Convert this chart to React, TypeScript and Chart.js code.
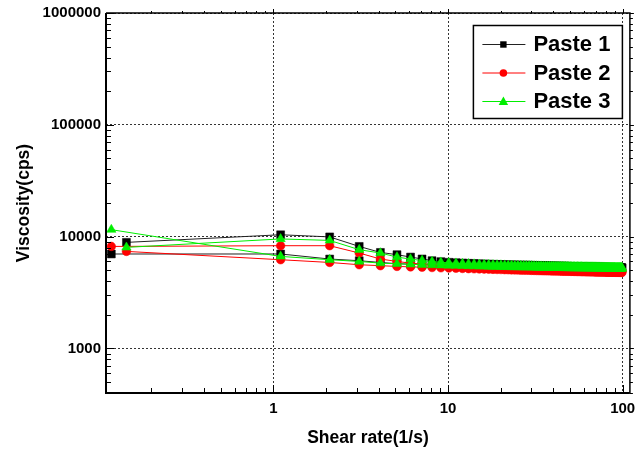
import React, { useEffect, useRef } from 'react';
import { Chart, registerables } from 'chart.js';

Chart.register(...registerables);

// Shear rates (1/s) of the measured steps
const SHEAR_RATE = [
  1.1, 2.1, 3.1, 4.1, 5.1, 6.1, 7.1, 8.1, 9.1, 10.1,
  11.1, 12.1, 13.1, 14.1, 15.1, 16.1, 17.1, 18.1, 19.1, 20.1,
  21.1, 22.1, 23.1, 24.1, 25.1, 26.1, 27.1, 28.1, 29.1, 30.1,
  31.1, 32.1, 33.1, 34.1, 35.1, 36.1, 37.1, 38.1, 39.1, 40.1,
  41.1, 42.1, 43.1, 44.1, 45.1, 46.1, 47.1, 48.1, 49.1, 50.1,
  51.1, 52.1, 53.1, 54.1, 55.1, 56.1, 57.1, 58.1, 59.1, 60.1,
  61.1, 62.1, 63.1, 64.1, 65.1, 66.1, 67.1, 68.1, 69.1, 70.1,
  71.1, 72.1, 73.1, 74.1, 75.1, 76.1, 77.1, 78.1, 79.1, 80.1,
  81.1, 82.1, 83.1, 84.1, 85.1, 86.1, 87.1, 88.1, 89.1, 90.1,
  91.1, 92.1, 93.1, 94.1, 95.1, 96.1, 97.1, 98.1, 99.1,
];

// Paste 1 — low-shear end points [start, end] and the two branches
const P1_ENDS_X = [0.144, 0.118];
const P1_ENDS_Y = [8890, 7000];
const P1_UP = [
  10400, 9950, 8180, 7230, 6900, 6570, 6320, 6100, 5980, 5900,
  5850, 5810, 5780, 5750, 5720, 5700, 5680, 5660, 5650, 5640,
  5625, 5615, 5600, 5595, 5580, 5570, 5565, 5555, 5550, 5540,
  5535, 5525, 5520, 5510, 5505, 5500, 5490, 5485, 5480, 5475,
  5470, 5462, 5458, 5450, 5446, 5440, 5436, 5430, 5426, 5420,
  5418, 5412, 5408, 5404, 5400, 5396, 5392, 5388, 5384, 5380,
  5377, 5374, 5370, 5367, 5364, 5360, 5358, 5355, 5352, 5349,
  5346, 5343, 5340, 5338, 5335, 5332, 5330, 5327, 5325, 5322,
  5320, 5318, 5315, 5313, 5310, 5308, 5306, 5304, 5302, 5300,
  5298, 5296, 5294, 5292, 5290, 5288, 5286, 5284, 5282,
];
const P1_DOWN = [
  7000, 6310, 6095, 5880, 5730, 5680, 5640, 5610, 5590, 5570,
  5555, 5540, 5530, 5520, 5510, 5500, 5492, 5485, 5478, 5470,
  5464, 5458, 5452, 5446, 5440, 5435, 5430, 5425, 5420, 5415,
  5410, 5406, 5402, 5398, 5394, 5390, 5386, 5382, 5378, 5375,
  5372, 5368, 5365, 5362, 5358, 5355, 5352, 5349, 5346, 5343,
  5340, 5337, 5334, 5331, 5328, 5326, 5323, 5320, 5318, 5315,
  5313, 5310, 5308, 5305, 5303, 5300, 5298, 5296, 5294, 5291,
  5289, 5287, 5285, 5283, 5281, 5279, 5277, 5275, 5273, 5271,
  5269, 5267, 5265, 5263, 5262, 5260, 5258, 5256, 5255, 5253,
  5251, 5250, 5248, 5246, 5245, 5243, 5242, 5240, 5239,
];

// Paste 2
const P2_ENDS_X = [0.118, 0.144];
const P2_ENDS_Y = [8180, 7380];
const P2_UP = [
  8300, 8300, 7140, 6310, 6000, 5800, 5680, 5590, 5520, 5460,
  5420, 5385, 5355, 5330, 5305, 5285, 5265, 5248, 5232, 5218,
  5205, 5193, 5182, 5172, 5162, 5153, 5144, 5136, 5128, 5121,
  5114, 5107, 5101, 5095, 5089, 5083, 5078, 5073, 5068, 5063,
  5058, 5054, 5049, 5045, 5041, 5037, 5033, 5029, 5026, 5022,
  5019, 5015, 5012, 5009, 5006, 5003, 5000, 4997, 4994, 4991,
  4989, 4986, 4983, 4981, 4978, 4976, 4974, 4971, 4969, 4967,
  4965, 4963, 4960, 4958, 4956, 4954, 4952, 4950, 4948, 4947,
  4945, 4943, 4941, 4939, 4938, 4936, 4934, 4933, 4931, 4929,
  4928, 4926, 4925, 4923, 4922, 4920, 4919, 4917, 4916,
];
const P2_DOWN = [
  6220, 5880, 5610, 5500, 5420, 5370, 5330, 5295, 5265, 5240,
  5218, 5197, 5178, 5161, 5145, 5130, 5116, 5103, 5091, 5080,
  5069, 5059, 5050, 5041, 5032, 5024, 5016, 5009, 5002, 4995,
  4989, 4982, 4976, 4971, 4965, 4960, 4955, 4950, 4945, 4940,
  4936, 4931, 4927, 4923, 4919, 4915, 4911, 4907, 4904, 4900,
  4897, 4893, 4890, 4887, 4884, 4881, 4878, 4875, 4872, 4869,
  4866, 4864, 4861, 4858, 4856, 4853, 4851, 4849, 4846, 4844,
  4842, 4840, 4837, 4835, 4833, 4831, 4829, 4827, 4825, 4823,
  4821, 4819, 4818, 4816, 4814, 4812, 4811, 4809, 4807, 4806,
  4804, 4802, 4801, 4799, 4798, 4796, 4795, 4793, 4792,
];

// Paste 3
const P3_ENDS_X = [0.144, 0.118];
const P3_ENDS_Y = [8020, 11550];
const P3_UP = [
  9540, 9260, 7650, 7140, 6570, 6300, 6120, 5990, 5900, 5830,
  5780, 5740, 5705, 5675, 5650, 5628, 5608, 5590, 5574, 5560,
  5547, 5535, 5524, 5514, 5504, 5495, 5487, 5479, 5472, 5465,
  5458, 5452, 5446, 5440, 5435, 5430, 5425, 5420, 5415, 5411,
  5407, 5403, 5399, 5395, 5391, 5388, 5384, 5381, 5378, 5375,
  5372, 5369, 5366, 5363, 5361, 5358, 5356, 5353, 5351, 5348,
  5346, 5344, 5342, 5340, 5338, 5336, 5334, 5332, 5330, 5328,
  5326, 5324, 5323, 5321, 5319, 5318, 5316, 5315, 5313, 5312,
  5310, 5309, 5307, 5306, 5305, 5303, 5302, 5301, 5299, 5298,
  5297, 5296, 5294, 5293, 5292, 5291, 5290, 5289, 5288,
];
const P3_DOWN = [
  6660, 6220, 6000, 5800, 5720, 5660, 5615, 5580, 5550, 5525,
  5503, 5484, 5467, 5452, 5438, 5425, 5413, 5402, 5392, 5383,
  5374, 5366, 5358, 5351, 5344, 5338, 5332, 5326, 5321, 5316,
  5311, 5306, 5302, 5298, 5294, 5290, 5286, 5283, 5279, 5276,
  5273, 5270, 5267, 5264, 5261, 5259, 5256, 5254, 5251, 5249,
  5247, 5245, 5243, 5241, 5239, 5237, 5235, 5233, 5231, 5229,
  5228, 5226, 5224, 5223, 5221, 5220, 5218, 5217, 5215, 5214,
  5213, 5211, 5210, 5209, 5208, 5206, 5205, 5204, 5203, 5202,
  5201, 5200, 5199, 5198, 5197, 5196, 5195, 5194, 5193, 5192,
  5191, 5190, 5189, 5188, 5187, 5186, 5186, 5185, 5184,
];

const SERIES_NAMES = ['Paste 1', 'Paste 2', 'Paste 3'];
const X_TICKS = [1, 10, 100];
const Y_TICKS = [1000, 10000, 100000, 1000000];

const FONT = '"Liberation Sans", Arial, Helvetica, sans-serif';

function loop(endsX: number[], endsY: number[], up: number[], down: number[]) {
  const pts: { x: number; y: number }[] = [];
  pts.push({ x: endsX[0], y: endsY[0] });
  SHEAR_RATE.forEach((x, i) => pts.push({ x, y: up[i] }));
  for (let i = SHEAR_RATE.length - 1; i >= 0; i--) pts.push({ x: SHEAR_RATE[i], y: down[i] });
  pts.push({ x: endsX[1], y: endsY[1] });
  return pts;
}

function logTicks(min: number, max: number) {
  const out: { v: number; major: boolean }[] = [];
  const lo = Math.floor(Math.log10(min));
  const hi = Math.ceil(Math.log10(max));
  for (let e = lo; e <= hi; e++) {
    for (let m = 1; m <= 9; m++) {
      const v = m * Math.pow(10, e);
      if (v >= min * 0.9999 && v <= max * 1.0001) out.push({ v, major: m === 1 });
    }
  }
  return out;
}

function drawMarker(ctx: CanvasRenderingContext2D, style: string, x: number, y: number, r: number) {
  ctx.beginPath();
  if (style === 'rect') {
    ctx.rect(x - r, y - r, 2 * r, 2 * r);
  } else if (style === 'circle') {
    ctx.arc(x, y, r, 0, Math.PI * 2);
  } else {
    ctx.moveTo(x, y - r * 1.1);
    ctx.lineTo(x + r * 1.05, y + r * 0.75);
    ctx.lineTo(x - r * 1.05, y + r * 0.75);
    ctx.closePath();
  }
  ctx.fill();
}

const framePlugin = {
  id: 'frameTicks',
  afterDraw(chart: any) {
    const { ctx, chartArea: a, scales } = chart;
    const xs = scales.x;
    const ys = scales.y;
    ctx.save();
    ctx.strokeStyle = '#000';
    ctx.lineWidth = 1;
    ctx.beginPath();
    for (const t of logTicks(xs.min, xs.max)) {
      const px = Math.round(xs.getPixelForValue(t.v)) + 0.5;
      ctx.moveTo(px, a.bottom);
      ctx.lineTo(px, a.bottom - (t.major ? 8 : 5));
      ctx.moveTo(px, a.top);
      ctx.lineTo(px, a.top - (t.major ? 4 : 2));
    }
    for (const t of logTicks(ys.min, ys.max)) {
      const py = Math.round(ys.getPixelForValue(t.v)) + 0.5;
      ctx.moveTo(a.left, py);
      ctx.lineTo(a.left + (t.major ? 8 : 5), py);
      ctx.moveTo(a.right, py);
      ctx.lineTo(a.right + (t.major ? 4 : 3), py);
    }
    ctx.stroke();
    // frame
    ctx.lineWidth = 1.5;
    ctx.beginPath();
    ctx.moveTo(a.left, a.top);
    ctx.lineTo(a.right, a.top);
    ctx.lineTo(a.right, a.bottom);
    ctx.stroke();
    ctx.lineWidth = 2;
    ctx.beginPath();
    ctx.moveTo(a.left, a.top);
    ctx.lineTo(a.left, a.bottom);
    ctx.lineTo(a.right, a.bottom);
    ctx.stroke();
    ctx.restore();
  },
};

const legendPlugin = {
  id: 'boxLegend',
  afterDraw(chart: any) {
    const { ctx, chartArea: a } = chart;
    const right = a.right - 7.5;
    const top = a.top + 12.5;
    const w = 149;
    const h = 93;
    const left = right - w;
    ctx.save();
    ctx.fillStyle = '#fff';
    ctx.fillRect(left, top, w, h);
    ctx.strokeStyle = '#000';
    ctx.lineWidth = 1.5;
    ctx.strokeRect(left, top, w, h);
    chart.data.datasets.forEach((ds: any, i: number) => {
      const y = top + 18.5 + i * 28.5;
      ctx.strokeStyle = ds.borderColor;
      ctx.lineWidth = 1;
      ctx.beginPath();
      ctx.moveTo(left + 9, y + 0.5);
      ctx.lineTo(left + 52, y + 0.5);
      ctx.stroke();
      ctx.fillStyle = ds.pointBackgroundColor;
      const r = ds.pointStyle === 'rect' ? 3.2 : ds.pointStyle === 'circle' ? 3.8 : 4.5;
      drawMarker(ctx, ds.pointStyle, left + 30, y + 0.5, r);
      ctx.fillStyle = '#000';
      ctx.font = `bold 22px ${FONT}`;
      ctx.textBaseline = 'middle';
      ctx.textAlign = 'left';
      ctx.fillText(ds.label, left + 60, y + 1);
    });
    ctx.restore();
  },
};

export default function App() {
  const canvasRef = useRef<HTMLCanvasElement | null>(null);

  useEffect(() => {
    const canvas = canvasRef.current;
    if (!canvas) return;
    const colors = ['#000000', '#ff0000', '#00ee00'];
    const styles = ['rect', 'circle', 'triangle'];
    const radii = [5.6, 4.3, 5.4];
    const loops = [
      loop(P1_ENDS_X, P1_ENDS_Y, P1_UP, P1_DOWN),
      loop(P2_ENDS_X, P2_ENDS_Y, P2_UP, P2_DOWN),
      loop(P3_ENDS_X, P3_ENDS_Y, P3_UP, P3_DOWN),
    ];
    const lineColors = ['#222222', '#ff0000', '#00ee00'];
    const datasets = SERIES_NAMES.map((name, i) => ({
      label: name,
      data: loops[i],
      borderColor: lineColors[i],
      borderWidth: 1,
      pointStyle: styles[i],
      pointRadius: radii[i],
      pointBackgroundColor: colors[i],
      pointBorderColor: colors[i],
      pointBorderWidth: 0.5,
      tension: 0,
      order: 3 - i,
    }));

    const chart = new Chart(canvas, {
      type: 'line',
      data: { datasets },
      options: {
        animation: false,
        responsive: false,
        devicePixelRatio: 1,
        layout: { padding: { top: 13, right: 6, left: 0, bottom: 0 } },
        plugins: {
          legend: { display: false },
          tooltip: { enabled: false },
        },
        scales: {
          x: {
            type: 'logarithmic',
            min: 0.11,
            max: 110,
            afterFit: (s: any) => { s.height = 59; s.paddingLeft = 0; s.paddingRight = 0; },
            afterBuildTicks: (s: any) => { s.ticks = X_TICKS.map((v) => ({ value: v })); },
            ticks: {
              autoSkip: false,
              maxRotation: 0,
              padding: 7,
              color: '#000',
              font: { family: FONT, size: 15, weight: 'bold' },
              callback: (v: any) => String(v),
            },
            grid: { color: '#333', lineWidth: 1, drawTicks: false },
            border: { display: false, dash: [2, 2] },
            title: {
              display: true,
              text: 'Shear rate(1/s)',
              color: '#000',
              font: { family: FONT, size: 17.5, weight: 'bold' },
              padding: { top: 0, bottom: 3 },
            },
          },
          y: {
            type: 'logarithmic',
            min: 400,
            max: 1000000,
            afterFit: (s: any) => { s.width = 106; s.paddingTop = 0; s.paddingBottom = 0; },
            afterBuildTicks: (s: any) => { s.ticks = Y_TICKS.map((v) => ({ value: v })); },
            ticks: {
              autoSkip: false,
              padding: 5,
              color: '#000',
              font: { family: FONT, size: 15, weight: 'bold' },
              callback: (v: any) => String(v),
            },
            grid: { color: '#333', lineWidth: 1, drawTicks: false },
            border: { display: false, dash: [2, 2] },
            title: {
              display: true,
              text: 'Viscosity(cps)',
              color: '#000',
              font: { family: FONT, size: 17.5, weight: 'bold' },
              padding: { top: 14, bottom: 0 },
            },
          },
        },
      },
      plugins: [framePlugin, legendPlugin],
    } as any);

    return () => chart.destroy();
  }, []);

  return (
    <div style={{ position: 'absolute', left: 0, top: 0, width: 636, height: 452, background: '#fff' }}>
      <canvas ref={canvasRef} width={636} height={452} style={{ display: 'block' }} />
    </div>
  );
}
